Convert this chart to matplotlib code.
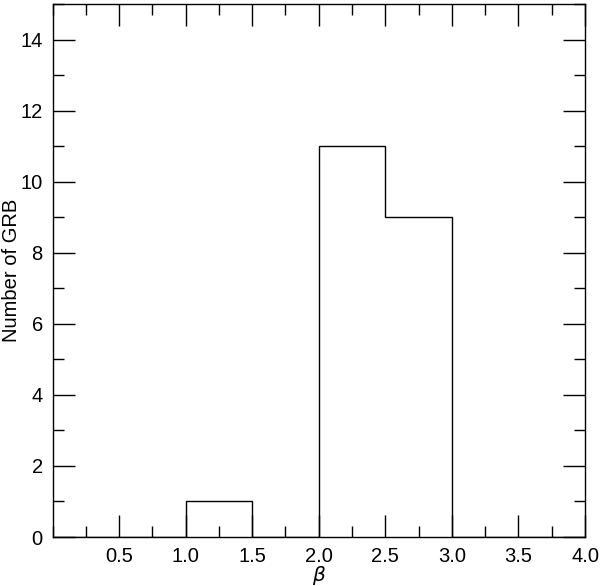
import matplotlib
matplotlib.use("Agg")
import matplotlib.pyplot as plt
import numpy as np
from matplotlib.ticker import MultipleLocator

plt.rcParams['font.family'] = ['Liberation Sans', 'DejaVu Sans']
plt.rcParams['font.size'] = 14.5

# histogram of beta, bin width 0.5
bin_edges = [0.0, 0.5, 1.0, 1.5, 2.0, 2.5, 3.0, 3.5, 4.0]
counts = [0, 0, 1, 0, 11, 9, 0, 0]

fig = plt.figure(figsize=(6.0, 5.86), dpi=100)
ax = fig.add_axes([0.0875, 0.0836, 0.8875, 0.9095])

ax.stairs(counts, bin_edges, color='black', linewidth=1.0)

ax.set_xlim(0, 4)
ax.set_ylim(0, 15)
ax.xaxis.set_minor_locator(MultipleLocator(0.25))
ax.yaxis.set_major_locator(MultipleLocator(2))
ax.yaxis.set_minor_locator(MultipleLocator(1))
ax.set_xticks([0.5, 1.0, 1.5, 2.0, 2.5, 3.0, 3.5, 4.0])
ax.set_xticklabels(['0.5', '1.0', '1.5', '2.0', '2.5', '3.0', '3.5', '4.0'])

ax.tick_params(which='both', direction='in', top=True, right=True, width=1.0, color='black')
ax.tick_params(which='major', length=16)
ax.tick_params(axis='x', which='major', pad=7)
ax.tick_params(axis='y', which='major', pad=7)
ax.tick_params(which='minor', length=8)
for s in ax.spines.values():
    s.set_linewidth(1.0)

ax.set_xlabel(r'$\beta$', va='center')
ax.xaxis.set_label_coords(0.5, -0.072)
ax.set_ylabel('Number of GRB', va='center')
ax.yaxis.set_label_coords(-0.077, 0.5)

fig.savefig('out.png', dpi=100)
